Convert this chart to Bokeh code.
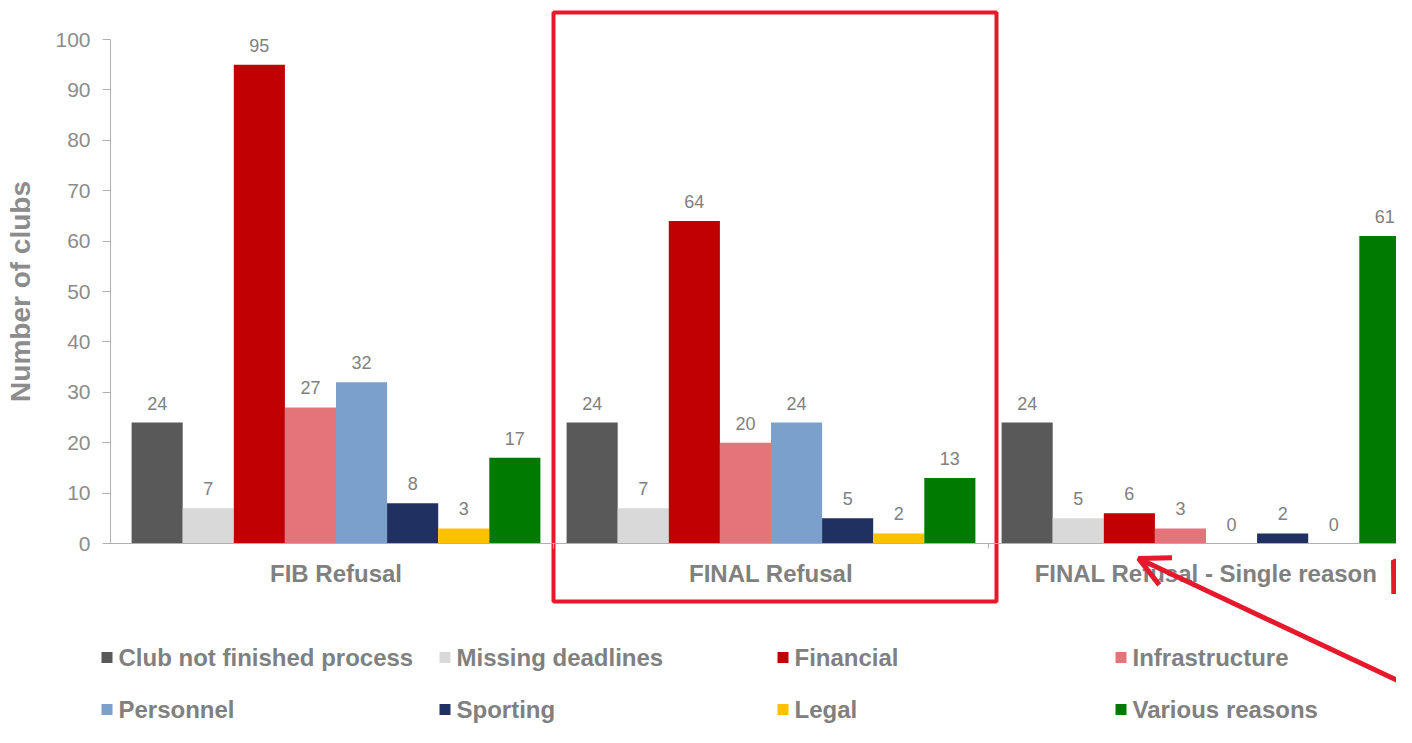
import numpy as np
from bokeh.plotting import figure
from bokeh.models import Range1d, FixedTicker, ColumnDataSource, Arrow, OpenHead
from bokeh.embed import file_html
from bokeh.resources import INLINE
from bokeh.core.properties import value

# ---------------- data ----------------
groups = ["FIB Refusal", "FINAL Refusal", "FINAL Refusal - Single reason"]
series = ["Club not finished process", "Missing deadlines", "Financial", "Infrastructure",
          "Personnel", "Sporting", "Legal", "Various reasons"]
colors = ["#595959", "#d9d9d9", "#c00000", "#e5737a", "#7ba0cb", "#1f3061", "#ffc000", "#007a00"]
club_not_finished = [24, 24, 24]
missing_deadlines = [7, 7, 5]
financial = [95, 64, 6]
infrastructure = [27, 20, 3]
personnel = [32, 24, 0]
sporting = [8, 5, 2]
legal = [3, 2, 0]
various_reasons = [17, 13, 61]
values = [club_not_finished, missing_deadlines, financial, infrastructure,
          personnel, sporting, legal, various_reasons]
y_ticks = list(range(0, 101, 10))

# ---------------- layout ----------------
W, H = 1396, 727
GROUP_PX = 435.0      # pixels per category
ORIGIN_X = 335.5      # canvas px of first category centre
ZERO_Y = 543.0        # canvas px of y = 0
UNIT_Y = 5.04         # px per unit on y


def dx(px):
    return (px - ORIGIN_X) / GROUP_PX


def dy(py):
    return (ZERO_Y - py) / UNIT_Y


BAR_W = 51.1 / GROUP_PX
GRAY = "#808080"
RED = "#e5192b"
FONT = value("Liberation Sans")

p = figure(width=W, height=H, x_range=Range1d(dx(0), dx(W)), y_range=Range1d(dy(H), dy(0)),
           output_backend="svg", toolbar_location=None, title=None,
           min_border=0, min_border_left=0, min_border_right=0,
           min_border_top=0, min_border_bottom=0)
p.outline_line_color = None
p.grid.visible = False
p.background_fill_color = "white"
p.border_fill_color = "white"

gidx = np.arange(len(groups))
for k, (name, vals, col) in enumerate(zip(series, values, colors)):
    xs = gidx + (k - 3.5) * BAR_W
    src = ColumnDataSource(dict(x=xs, top=vals, lab=[str(v) for v in vals]))
    p.vbar(x="x", top="top", bottom=0, width=BAR_W, source=src,
           fill_color=col, line_color=None)
    p.text(x="x", y="top", text="lab", source=src, text_align="center",
           text_baseline="bottom", y_offset=-13, text_font_size="18px",
           text_color=GRAY, text_font=FONT)

# ---------------- axes ----------------
yax = p.yaxis[0]
yax.fixed_location = dx(110)
yax.bounds = (0, 100)
yax.ticker = FixedTicker(ticks=y_ticks)
yax.axis_label = "Number of clubs"
yax.axis_label_text_font = "Liberation Sans"
yax.axis_label_text_font_style = "bold"
yax.axis_label_text_font_size = "28px"
yax.axis_label_text_color = "#8c8c8c"
yax.axis_label_standoff = 16
yax.major_label_text_font = "Liberation Sans"
yax.major_label_text_font_size = "21px"
yax.major_label_text_color = "#8c8c8c"
yax.major_label_standoff = 12
yax.major_tick_out = 8
yax.major_tick_in = 0
yax.minor_tick_out = 0
yax.minor_tick_in = 0
yax.axis_line_color = "#b0b0b0"
yax.major_tick_line_color = "#b0b0b0"

xax = p.xaxis[0]
xax.fixed_location = 0
xax.bounds = (dx(103), dx(W))
xax.ticker = FixedTicker(ticks=list(gidx), minor_ticks=[0.5, 1.5])
xax.major_label_overrides = {int(i): g for i, g in zip(gidx, groups)}
xax.major_label_text_font = "Liberation Sans"
xax.major_label_text_font_style = "bold"
xax.major_label_text_font_size = "24px"
xax.major_label_text_color = GRAY
xax.major_label_standoff = 11
xax.major_tick_out = 0
xax.major_tick_in = 0
xax.minor_tick_out = 5
xax.minor_tick_in = 0
xax.axis_line_color = "#b0b0b0"
xax.minor_tick_line_color = "#b0b0b0"

# ---------------- legend (manual, two rows of four) ----------------
LEG_X0, LEG_PITCH = 106.5, 338.0
LEG_ROWS = [657.0, 709.0]
leg_x = [dx(LEG_X0 + (k % 4) * LEG_PITCH) for k in range(len(series))]
leg_tx = [dx(LEG_X0 + 11.5 + (k % 4) * LEG_PITCH) for k in range(len(series))]
leg_y = [dy(LEG_ROWS[k // 4]) for k in range(len(series))]
leg_src = ColumnDataSource(dict(x=leg_x, tx=leg_tx, y=leg_y, name=series, color=colors))
p.scatter(x="x", y="y", source=leg_src, marker="square", size=11,
          fill_color="color", line_color=None)
p.text(x="tx", y="y", text="name", source=leg_src, text_align="left",
       text_baseline="middle", text_font_size="24px", text_font_style="bold",
       text_color=GRAY, text_font=FONT)

# ---------------- highlight box and arrows ----------------
p.quad(left=dx(553), right=dx(996), top=dy(12), bottom=dy(601),
       fill_color=None, line_color=RED, line_width=4)
p.add_layout(Arrow(end=OpenHead(size=30, line_color=RED, line_width=5),
                   x_start=dx(1450), y_start=dy(705), x_end=dx(1138), y_end=dy(558),
                   line_color=RED, line_width=5))
p.add_layout(Arrow(end=OpenHead(size=30, line_color=RED, line_width=5),
                   x_start=dx(1440), y_start=dy(652), x_end=dx(1393), y_end=dy(560),
                   line_color=RED, line_width=5))

open("out.html", "w").write(file_html(p, INLINE))
